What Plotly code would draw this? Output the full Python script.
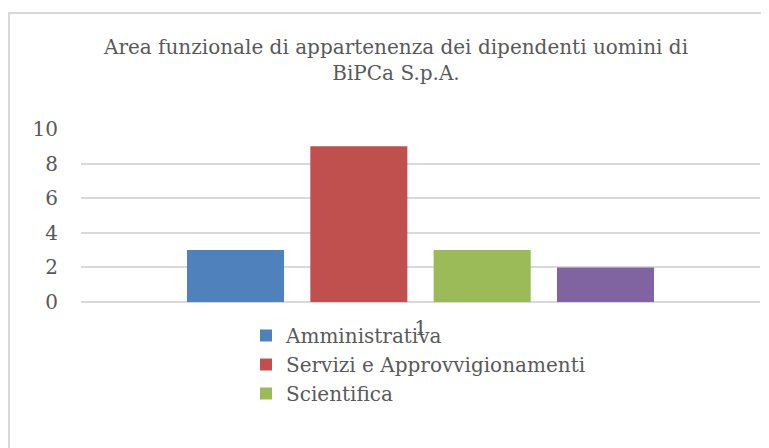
import plotly.graph_objects as go

categories = ["1"]
series_names = ["Amministrativa", "Servizi e Approvvigionamenti", "Scientifica", "Altro"]
series_values = [[3], [9], [3], [2]]
series_colors = ["#4F81BD", "#C0504D", "#9BBB59", "#8064A2"]
show_in_legend = [True, True, True, False]
y_ticks = [0, 2, 4, 6, 8, 10]

FONT = "DejaVu Serif"
TXT = "#595959"

# the page body adds an 8px offset, so the figure is laid out 8px smaller
W, H = 761, 440
L, R, T, B = 73, 9, 121, 146
PW, PH = W - L - R, H - T - B

fig = go.Figure()
for name, vals, col, sl in zip(series_names, series_values, series_colors, show_in_legend):
    fig.add_trace(go.Bar(x=categories, y=vals, name=name, marker_color=col,
                         marker_line_width=0, showlegend=sl))

fig.update_layout(
    width=W, height=H,
    margin=dict(l=L, r=R, t=T, b=B),
    paper_bgcolor="white", plot_bgcolor="white",
    barmode="group", bargap=0.2735, bargroupgap=0.213,
    font=dict(family=FONT, color=TXT, size=20),
    title=dict(text="Area funzionale di appartenenza dei dipendenti uomini di<br>BiPCa S.p.A.",
               x=388 / W, xanchor="center", xref="container",
               y=1 - 46 / H, yanchor="top", yref="container",
               font=dict(family=FONT, size=20, color=TXT)),
    legend=dict(x=(246 - 8 - L) / PW, xanchor="left", y=-(316 - 302) / PH, yanchor="top",
                font=dict(family=FONT, size=20, color=TXT),
                bgcolor="rgba(0,0,0,0)", itemwidth=30, tracegroupgap=0),
    showlegend=True,
)
fig.update_yaxes(range=[0, 10], tickvals=y_ticks, showgrid=True, gridcolor="#d9d9d9",
                 gridwidth=1.5, zeroline=True, zerolinecolor="#d9d9d9", zerolinewidth=1.5,
                 showline=False, ticklabelstandoff=22, tickfont=dict(size=20, color=TXT))
fig.update_xaxes(showline=False, showgrid=False, ticklabelstandoff=12,
                 tickfont=dict(size=20, color=TXT))
fig.add_shape(type="rect", xref="paper", yref="paper",
              x0=(1 - L) / PW, x1=1.2, y0=-2, y1=(H - B - 5) / PH,
              line=dict(color="#d9d9d9", width=2), fillcolor="rgba(0,0,0,0)", layer="below")

fig.write_html("out.html")
